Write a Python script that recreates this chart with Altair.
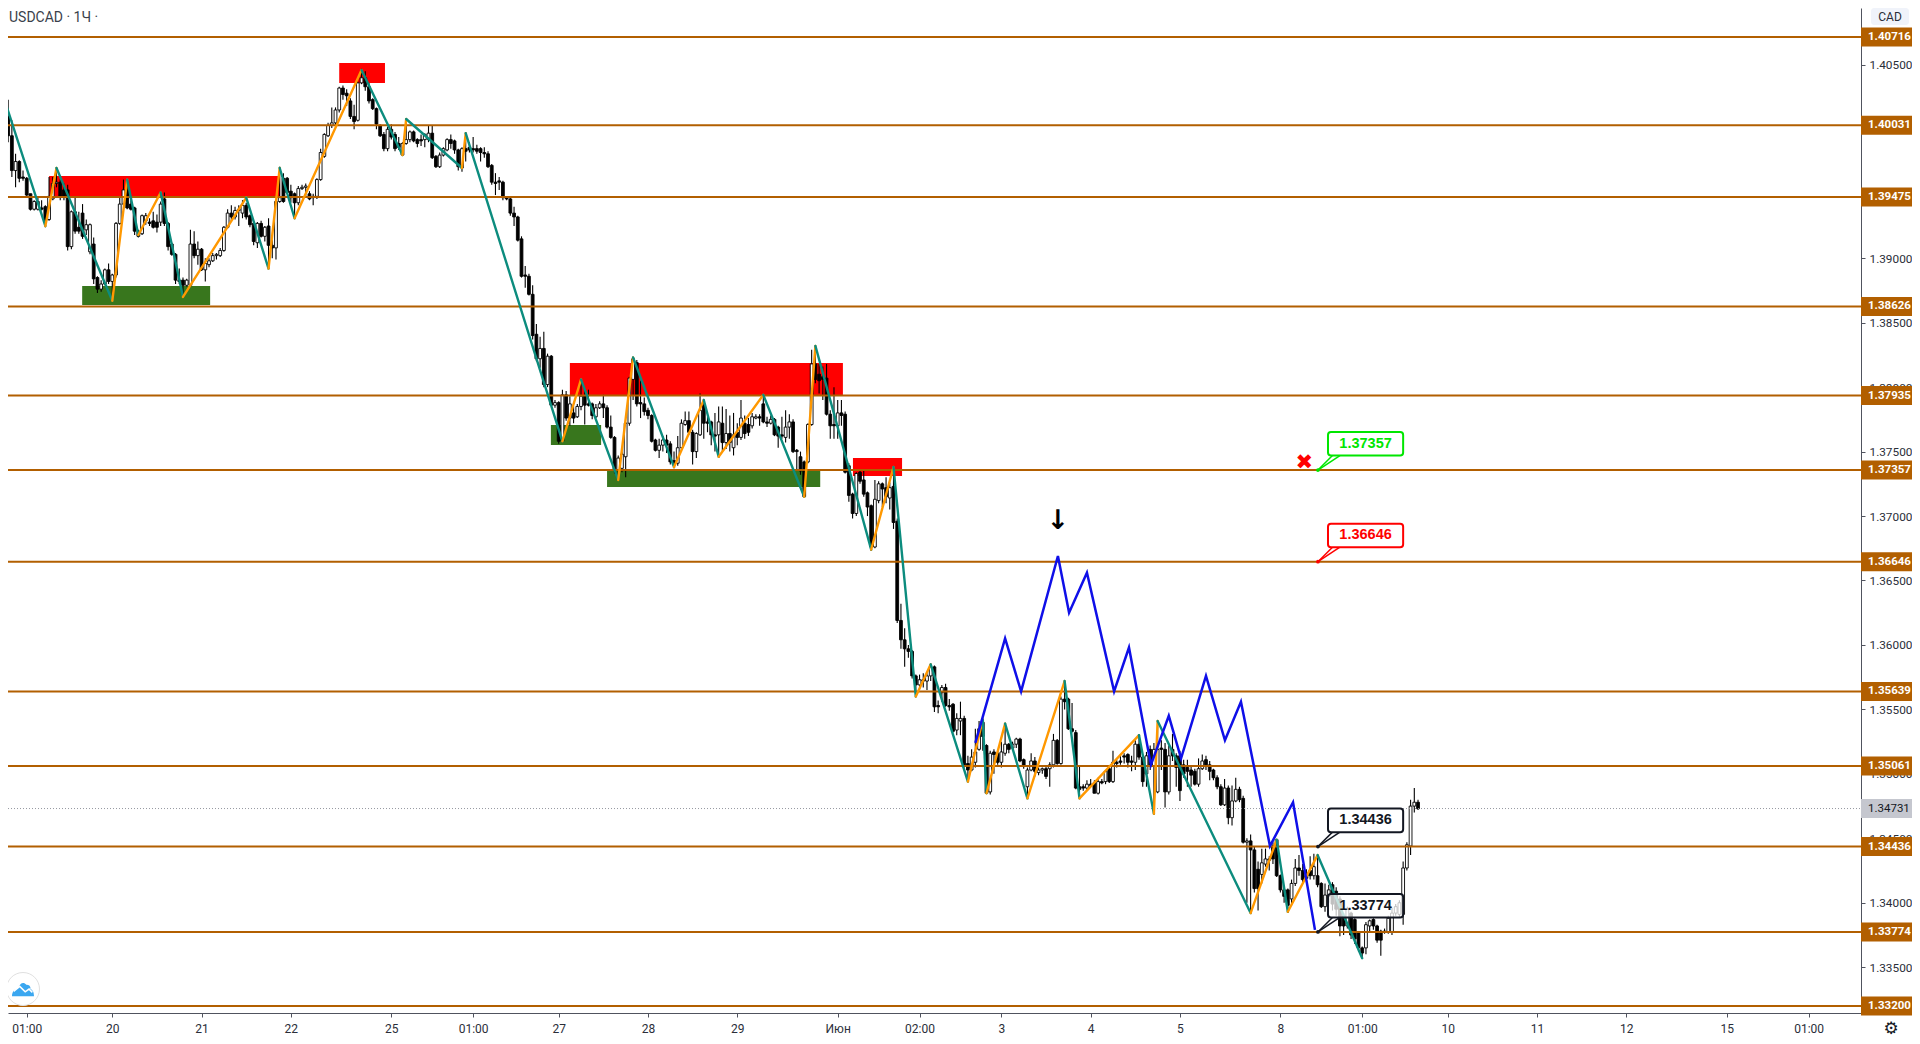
import altair as alt
import pandas as pd

# candles: (open, close, high, low) in pips above 1.0000, one row per hour bar
seg_a = [(4042,4030,4043,4027),(4030,4009,4032,4002),(4010,3995,4023,3990),(3995,3968,4007,3963),(3968,3975,3981,3955),
(3975,3962,3976,3959),(3963,3962,3968,3960),(3962,3949,3963,3948),(3950,3938,3950,3937),(3938,3944,3945,3937),
(3938,3944,3948,3937),(3939,3938,3945,3937),(3940,3929,3941,3924),(3930,3948,3963,3929),(3946,3958,3963,3945),
(3958,3959,3968,3955),(3959,3948,3961,3945),(3953,3948,3958,3945),(3953,3909,3957,3906),(3909,3936,3937,3907),
(3936,3921,3948,3919),(3924,3921,3936,3919),(3935,3917,3942,3915),(3922,3926,3930,3918),(3905,3926,3927,3903),
(3911,3884,3916,3880),(3885,3876,3886,3873),(3876,3880,3883,3874),(3880,3891,3892,3879),(3891,3882,3896,3880)]
seg_b = [(3882,3887,3888,3867),(3887,3927,3928,3885),(3927,3942,3948,3926),(3942,3953,3961,3941),(3953,3939,3961,3938),
(3942,3938,3945,3937),(3939,3921,3940,3918),(3921,3917,3922,3916),(3919,3933,3934,3918),(3929,3933,3935,3926),
(3928,3927,3931,3925),(3929,3924,3936,3923),(3928,3924,3934,3920),(3928,3942,3944,3925),(3946,3927,3951,3925),
(3927,3909,3928,3906),(3911,3903,3912,3902),(3903,3883,3904,3880),(3883,3882,3892,3880),(3883,3879,3885,3870),
(3879,3883,3884,3878),(3879,3911,3922,3878),(3911,3902,3921,3900),(3902,3907,3913,3895)]
seg_c = [(3907,3891,3908,3890),(3891,3896,3900,3882),(3895,3898,3900,3893),(3898,3902,3904,3897),(3902,3903,3904,3899),
(3902,3906,3908,3901),(3906,3924,3925,3905),(3924,3935,3938,3923),(3935,3932,3941,3928),(3932,3937,3940,3930),
(3937,3938,3941,3925),(3935,3941,3945,3931),(3941,3932,3943,3930),(3933,3926,3934,3924),(3927,3913,3928,3910),
(3912,3927,3928,3908),(3927,3917,3929,3916),(3917,3924,3925,3913),(3925,3910,3931,3892),(3910,3908,3914,3900),
(3908,3944,3945,3899),(3944,3947,3971,3943),(3962,3944,3966,3943),(3962,3951,3963,3950)]
seg_d = [(3952,3947,3957,3943),(3950,3943,3951,3931),(3943,3954,3956,3941),(3954,3955,3957,3953),(3955,3956,3958,3947),
(3950,3946,3952,3945),(3948,3947,3950,3941),(3948,3961,3962,3946),(3961,3982,3985,3960),(3979,3996,3997,3978),
(3995,4003,4005,3994),(4003,4005,4017,4001),(4005,4015,4017,4003),(4015,4032,4033,4013),(4032,4027,4034,4023),
(4028,4026,4031,4018),(4022,4010,4024,4008),(4010,4006,4019,4000),(4007,4036,4037,4006),(4036,4040,4047,4035),
(4040,4033,4045,4030),(4033,4022,4036,4020),(4023,4016,4024,4015),(4016,4004,4017,4000)]
seg_e = [(4003,3995,4004,3994),(3996,3985,3998,3983),(3985,4000,4002,3983),(4000,3994,4004,3992),(3996,3985,3998,3983),
(3989,3986,3994,3984),(3980,3989,3990,3980),(3989,3992,4008,3988),(3992,3998,3999,3990),(3998,3991,3999,3990),
(3992,3989,3993,3986),(3992,3991,3996,3987),(3992,3996,3997,3986),(3992,3997,4003,3990),(3997,3978,4003,3977),
(3979,3971,3980,3970),(3971,3980,3982,3970),(3980,3985,3986,3979),(3984,3992,3993,3983),(3992,3989,3996,3985),
(3991,3984,3992,3981),(3984,3971,3985,3968),(3970,3985,3986,3967),(3985,3983,3998,3975)]
seg_f = [(3986,3984,3990,3982),(3985,3984,3994,3982),(3985,3983,3988,3981),(3985,3982,3986,3975),(3982,3981,3986,3978),
(3981,3971,3983,3970),(3972,3959,3973,3957),(3959,3958,3966,3949),(3960,3959,3963,3953),(3959,3947,3960,3945),
(3947,3946,3948,3945),(3946,3935,3947,3933),(3935,3932,3940,3925),(3932,3914,3933,3913),(3915,3886,3917,3885),
(3887,3886,3894,3877),(3886,3872,3888,3871),(3872,3840,3879,3837),(3841,3822,3849,3820),(3822,3830,3839,3815),
(3830,3802,3843,3800),(3802,3824,3826,3800),(3824,3786,3825,3786),(3786,3788,3790,3784)]
seg_g = [(3788,3758,3789,3756),(3758,3794,3798,3757),(3794,3776,3797,3774),(3776,3787,3793,3770),(3780,3776,3785,3772),
(3777,3785,3787,3776),(3785,3793,3806,3782),(3793,3786,3798,3771),(3787,3786,3798,3785),(3787,3778,3788,3775),
(3777,3784,3787,3776),(3784,3787,3789,3783),(3787,3784,3794,3776),(3784,3769,3786,3768),(3769,3761,3778,3760),
(3761,3736,3762,3733),(3736,3745,3747,3728),(3737,3748,3750,3734),(3746,3772,3773,3730),(3772,3807,3808,3770),
(3806,3822,3823,3790),(3819,3787,3821,3785),(3788,3787,3805,3776),(3787,3781,3792,3778)]
seg_h = [(3782,3778,3784,3775),(3778,3758,3779,3757),(3759,3751,3760,3750),(3751,3755,3760,3745),(3755,3759,3762,3750),
(3759,3755,3763,3749),(3756,3742,3758,3740),(3743,3741,3750,3737),(3741,3753,3762,3739),(3753,3772,3775,3751),
(3771,3774,3781,3770),(3774,3765,3781,3763),(3765,3750,3767,3740),(3750,3764,3765,3745),(3763,3782,3795,3762),
(3786,3772,3790,3760),(3773,3772,3777,3765),(3773,3763,3774,3755),(3763,3762,3780,3750),(3763,3773,3785,3746),
(3772,3757,3785,3750),(3757,3764,3783,3752),(3764,3757,3778,3750),(3753,3763,3780,3747)]
seg_i = [(3765,3761,3772,3755),(3761,3776,3790,3759),(3772,3764,3778,3760),(3771,3765,3776,3762),(3770,3777,3780,3768),
(3776,3777,3779,3775),(3777,3776,3779,3770),(3787,3773,3794,3772),(3773,3772,3777,3769),(3772,3775,3778,3771),
(3775,3763,3776,3762),(3769,3762,3770,3753),(3763,3762,3777,3760),(3761,3769,3782,3757),(3769,3773,3779,3760),
(3773,3750,3775,3749),(3751,3750,3752,3736),(3746,3735,3750,3732),(3742,3715,3743,3715),(3742,3771,3772,3741),
(3771,3818,3829,3770),(3818,3806,3832,3803),(3810,3805,3818,3795),(3808,3806,3816,3790)]
seg_j = [(3807,3779,3818,3778),(3779,3770,3782,3760),(3771,3770,3800,3760),(3770,3780,3790,3760),(3780,3778,3790,3770),
(3779,3734,3781,3733),(3739,3716,3741,3711),(3717,3702,3718,3698),(3702,3733,3734,3700),(3734,3727,3735,3725),
(3728,3717,3735,3715),(3718,3707,3719,3700),(3708,3676,3709,3673),(3676,3713,3728,3675),(3712,3725,3727,3710),
(3725,3721,3726,3707),(3722,3715,3730,3710),(3714,3722,3726,3705),(3723,3695,3737,3690),(3696,3619,3698,3617),
(3619,3604,3632,3597),(3604,3597,3613,3583),(3597,3595,3600,3590),(3595,3576,3596,3574)]
seg_k = [(3576,3569,3577,3560),(3569,3573,3577,3566),(3573,3572,3578,3567),(3572,3576,3578,3565),(3576,3583,3585,3572),
(3583,3552,3584,3548),(3553,3552,3557,3547),(3563,3567,3569,3556),(3567,3553,3570,3552),(3553,3552,3558,3549),
(3554,3533,3555,3532),(3534,3543,3547,3530),(3541,3543,3556,3530),(3543,3507,3545,3505),(3508,3503,3514,3494),
(3503,3513,3519,3502),(3509,3517,3535,3505),(3519,3535,3541,3518),(3540,3529,3543,3518),(3522,3485,3523,3485),
(3486,3516,3518,3484),(3517,3515,3519,3500),(3516,3509,3518,3507),(3509,3517,3525,3505)]
seg_l = [(3516,3523,3539,3514),(3523,3519,3524,3516),(3520,3523,3525,3518),(3523,3527,3528,3520),(3527,3510,3528,3509),
(3511,3506,3512,3504),(3490,3503,3505,3481),(3503,3510,3516,3502),(3510,3502,3513,3498),(3501,3503,3505,3499),
(3503,3504,3505,3500),(3504,3498,3506,3496),(3504,3507,3509,3490),(3507,3526,3531,3505),(3526,3508,3527,3507),
(3508,3558,3560,3507),(3558,3556,3572,3550),(3558,3535,3559,3534),(3535,3533,3555,3532),(3532,3489,3534,3488),
(3490,3488,3506,3481),(3490,3489,3492,3487),(3489,3492,3495,3487),(3492,3491,3496,3490)]
seg_m = [(3493,3485,3495,3485),(3485,3494,3497,3484),(3494,3493,3496,3492),(3494,3502,3503,3492),(3504,3494,3506,3493),
(3494,3509,3518,3493),(3509,3508,3511,3505),(3510,3509,3514,3507),(3514,3513,3516,3508),(3515,3509,3516,3505),
(3510,3509,3514,3502),(3509,3523,3526,3503),(3523,3513,3530,3511),(3513,3494,3514,3490),(3500,3514,3517,3490),
(3519,3506,3522,3503),(3506,3519,3524,3470),(3486,3519,3541,3485),(3520,3519,3526,3503),(3519,3486,3524,3474),
(3486,3514,3522,3484),(3519,3514,3531,3510),(3514,3505,3516,3490),(3514,3487,3518,3479)]
seg_n = [(3507,3500,3511,3497),(3505,3502,3511,3490),(3503,3499,3506,3490),(3502,3492,3504,3491),(3492,3504,3512,3490),
(3504,3510,3515,3503),(3511,3507,3514,3503),(3507,3502,3510,3495),(3503,3497,3504,3495),(3497,3490,3499,3488),
(3490,3476,3492,3475),(3476,3489,3496,3475),(3489,3466,3491,3461),(3466,3479,3491,3460),(3479,3488,3497,3478),
(3488,3480,3490,3478),(3481,3447,3483,3446),(3447,3448,3450,3400),(3448,3441,3453,3392),(3441,3411,3444,3408),
(3426,3411,3432,3394),(3422,3431,3442,3415),(3430,3434,3442,3428),(3434,3433,3436,3425)]
seg_o = [(3444,3434,3447,3430),(3449,3421,3449,3420),(3421,3410,3422,3408),(3410,3405,3413,3400),(3410,3398,3411,3392),
(3403,3415,3418,3398),(3415,3427,3434,3413),(3427,3425,3437,3421),(3425,3418,3430,3415),(3421,3419,3426,3416),
(3425,3421,3436,3418),(3421,3428,3438,3418),(3421,3414,3437,3412),(3415,3397,3416,3396),(3397,3406,3415,3393),
(3405,3410,3414,3400),(3414,3399,3416,3394),(3409,3395,3412,3390),(3403,3382,3405,3374),(3390,3382,3392,3375),
(3382,3395,3397,3380),(3392,3375,3393,3372),(3387,3372,3388,3368),(3377,3365,3378,3362)]
seg_p = [(3365,3361,3366,3357),(3365,3383,3385,3360),(3382,3386,3387,3378),(3387,3382,3388,3379),(3382,3371,3383,3369),
(3378,3371,3379,3359),(3378,3377,3380,3376),(3377,3388,3390,3376),(3377,3392,3396,3375),(3392,3397,3399,3390),
(3391,3400,3402,3389),(3391,3427,3432,3383),(3427,3445,3447,3425),(3444,3475,3480,3437),(3475,3478,3489,3470),
(3478,3473,3480,3472)]

levels = [1.40716, 1.40031, 1.39475, 1.38626, 1.37935, 1.37357, 1.36646, 1.35639, 1.35061, 1.34436, 1.33774, 1.33200]
last_price = 1.34731
y_ticks = [1.405, 1.39, 1.385, 1.38, 1.375, 1.37, 1.365, 1.36, 1.355, 1.35, 1.345, 1.34, 1.335]
x_tick_pos = [7, 30, 54, 78, 105, 127, 150, 174, 198, 225, 247, 269, 293, 317, 344, 366, 389, 413, 437, 464, 486]
x_tick_txt = ["01:00","20","21","22","25","01:00","27","28","29","Июн","02:00","3","4","5","8","01:00","10","11","12","15","01:00"]

# zigzag turning points: bar, pips
zz_bar = [0,12,15,30,34,37,43,49,66,72,75,79,97,108,109,124,125,151,156,166,170,181,189,193,205,216,219,234,240,246,250,260,264,265,270,276,286,290,306,310,311,336,343,346,354,366]
zz_pip = [4032,3925,3970,3867,3961,3918,3951,3870,3947,3892,3970,3931,4046,3980,4008,3970,3997,3758,3806,3728,3823,3738,3790,3746,3794,3715,3832,3674,3738,3560,3585,3494,3542,3485,3539,3481,3572,3481,3530,3469,3541,3392,3449,3393,3437,3357]

blue_bar = [262,270,274.3,284.2,287.2,292,299.3,303.3,309.2,314,317.3,324,329.1,333.4,341.2,347.4,353.3]
blue_pip = [3524,3605,3564,3669,3625,3656,3564,3598,3507,3545,3512,3576,3526,3556,3444,3478,3379]

zone_x1 = [13.0, 91.0, 153.0, 229.1, 21.9, 147.9, 163.0]
zone_x2 = [75.1, 103.3, 226.4, 242.3, 56.3, 161.4, 220.3]
zone_top = [1.39638, 1.40514, 1.38187, 1.37450, 1.38785, 1.37706, 1.37357]
zone_bot = [1.39475, 1.40359, 1.37935, 1.37311, 1.38637, 1.37551, 1.37225]
zone_col = ["#ff0000","#ff0000","#ff0000","#ff0000","#38761d","#38761d","#38761d"]

call_price = [1.37357, 1.36646, 1.34436, 1.33774]
call_text = ["1.37357", "1.36646", "1.34436", "1.33774"]
call_col = ["#00e600", "#ff0000", "#131722", "#131722"]
call_fill = [1.0, 1.0, 1.0, 0.75]

LEVEL = "#b25f00"
TEAL = "#0c8c7e"
ORANGE = "#ff9800"
FONT = "Roboto"

rows = seg_a+seg_b+seg_c+seg_d+seg_e+seg_f+seg_g+seg_h+seg_i+seg_j+seg_k+seg_l+seg_m+seg_n+seg_o+seg_p
cd = pd.DataFrame(rows, columns=["o","c","h","l"]) / 10000 + 1
cd["i"] = range(len(cd))
cd["fill"] = ["#ffffff" if b >= a else "#000000" for a, b in zip(cd.o, cd.c)]

xs = alt.Scale(domain=[1.962, 500.08], nice=False, zero=False, padding=0)
ys = alt.Scale(domain=[1.33145, 1.40941], nice=False, zero=False, padding=0)

label_expr = "[" + ",".join(f"'{t}'" for t in x_tick_txt) + "][indexof(" + str(x_tick_pos) + ",datum.value)]"
x_axis = alt.Axis(values=x_tick_pos, labelExpr=label_expr, grid=False, labelOverlap=False, labelFlush=False,
        labelFont=FONT, labelFontSize=12, labelColor="#2a2e39", labelPadding=6, tickSize=4, tickColor="#50535e",
        domainColor="#50535e", domainWidth=1, title=None)
y_axis = alt.Axis(values=y_ticks, format=".5f", orient="right", grid=False, labelOverlap=False, labelFlush=False, labelBound=False,
        labelFont=FONT, labelFontSize=11.8, labelColor="#2a2e39", labelPadding=4, tickSize=4, tickColor="#50535e",
        domainColor="#50535e", domainWidth=1, title=None)
AX = dict(scale=xs, axis=x_axis, title=None)
AY = dict(scale=ys, axis=y_axis, title=None)

wick = alt.Chart(cd).mark_rule(color="#000000", strokeWidth=1.1, clip=True).encode(
    x=alt.X("i:Q", **AX), y=alt.Y("l:Q", **AY), y2="h:Q")

body = alt.Chart(cd).mark_bar(size=2.8, stroke="#000000", strokeWidth=0.9, orient="vertical", clip=True).encode(
    x=alt.X("i:Q", **AX), y=alt.Y("o:Q", **AY), y2="c:Q", fill=alt.Fill("fill:N", scale=None))

zones_df = pd.DataFrame({"x1": zone_x1, "x2": zone_x2, "t": zone_top, "b": zone_bot, "col": zone_col})
zones = alt.Chart(zones_df).mark_rect(clip=True).encode(
    x=alt.X("x1:Q", **AX), x2="x2:Q", y=alt.Y("t:Q", **AY), y2="b:Q", fill=alt.Fill("col:N", scale=None))

lv_df = pd.DataFrame({"p": levels, "txt": [f"{v:.5f}" for v in levels]})
lv_lines = alt.Chart(lv_df).mark_rule(color=LEVEL, strokeWidth=2).encode(
    x=alt.value(0), x2=alt.value(1853), y=alt.Y("p:Q", **AY))
lv_box = alt.Chart(lv_df).mark_rule(color=LEVEL, strokeWidth=19).encode(
    x=alt.value(1853), x2=alt.value(1904), y=alt.Y("p:Q", **AY))
lv_txt = alt.Chart(lv_df).mark_text(align="left", baseline="middle", font=FONT, fontSize=11.5, fontWeight="bold", color="#ffffff").encode(
    x=alt.value(1860), y=alt.Y("p:Q", **AY), text="txt:N")

lp_df = pd.DataFrame({"p": [last_price], "txt": [f"{last_price:.5f}"]})
lp_line = alt.Chart(lp_df).mark_rule(color="#9598a1", strokeWidth=1, strokeDash=[1, 2]).encode(
    x=alt.value(0), x2=alt.value(1853), y=alt.Y("p:Q", **AY))
lp_box = alt.Chart(lp_df).mark_rule(color="#c5c7cf", strokeWidth=19).encode(
    x=alt.value(1853), x2=alt.value(1904), y=alt.Y("p:Q", **AY))
lp_txt = alt.Chart(lp_df).mark_text(align="left", baseline="middle", font=FONT, fontSize=11.5, color="#131722").encode(
    x=alt.value(1860), y=alt.Y("p:Q", **AY), text="txt:N")

zz_rows = []
for k in range(len(zz_bar) - 1):
    a, b = zz_pip[k], zz_pip[k + 1]
    zz_rows.append({"x": zz_bar[k], "x2": zz_bar[k + 1], "y": 1 + a / 1e4, "y2": 1 + b / 1e4,
                    "col": ORANGE if b > a else TEAL})
zigzag = alt.Chart(pd.DataFrame(zz_rows)).mark_rule(strokeWidth=2.4, strokeCap="round", clip=True).encode(
    x=alt.X("x:Q", **AX), x2="x2:Q", y=alt.Y("y:Q", **AY), y2="y2:Q", color=alt.Color("col:N", scale=None))

blue = alt.Chart(pd.DataFrame({"x": blue_bar, "y": [1 + v / 1e4 for v in blue_pip], "n": range(len(blue_bar))})).mark_line(
    color="#0f0fe8", strokeWidth=2.5, clip=True).encode(
    x=alt.X("x:Q", **AX), y=alt.Y("y:Q", **AY), order="n:Q")

marks_df = pd.DataFrame({"x": [350.4, 284.2], "y": [1.37412, 1.36962], "t": ["✖", "↓"], "col": ["#ff0000", "#000000"], "s": [21, 27]})
signs = alt.Chart(marks_df).mark_text(font="DejaVu Sans", fontWeight="bold", baseline="middle", align="center").encode(
    x=alt.X("x:Q", **AX), y=alt.Y("y:Q", **AY), text="t:N", color=alt.Color("col:N", scale=None),
    size=alt.Size("s:Q", scale=None))

cb_df = pd.DataFrame({"a": call_price, "txt": call_text, "col": call_col, "op": call_fill})
cb_df["x0"] = 354.1
cb_df["x1"] = 356.8
cb_df["x2"] = 377.0
cb_df["px1"] = 358.0
cb_df["px2"] = 360.0
cb_df["b"] = cb_df.a + 0.00112
cb_df["t"] = cb_df.a + 0.00295
cb_df["m"] = cb_df.a + 0.00204
cb_df["xm"] = 366.9
cb_box = alt.Chart(cb_df).mark_rect(cornerRadius=3, strokeWidth=2).encode(
    x=alt.X("x1:Q", **AX), x2="x2:Q", y=alt.Y("b:Q", **AY), y2="t:Q",
    stroke=alt.Stroke("col:N", scale=None), fill=alt.value("#ffffff"), fillOpacity=alt.FillOpacity("op:Q", scale=None))
cb_p1 = alt.Chart(cb_df).mark_rule(strokeWidth=1.5).encode(
    x=alt.X("x0:Q", **AX), x2="px1:Q", y=alt.Y("a:Q", **AY), y2="b:Q", color=alt.Color("col:N", scale=None))
cb_p2 = alt.Chart(cb_df).mark_rule(strokeWidth=1.5).encode(
    x=alt.X("x0:Q", **AX), x2="px2:Q", y=alt.Y("a:Q", **AY), y2="b:Q", color=alt.Color("col:N", scale=None))
cb_dot = alt.Chart(cb_df).mark_point(filled=True, size=14, opacity=1).encode(
    x=alt.X("x0:Q", **AX), y=alt.Y("a:Q", **AY), color=alt.Color("col:N", scale=None))
cb_txt = alt.Chart(cb_df).mark_text(font="Liberation Sans", fontSize=14.5, fontWeight="bold", align="center", baseline="middle").encode(
    x=alt.X("xm:Q", **AX), y=alt.Y("m:Q", **AY), text="txt:N", color=alt.Color("col:N", scale=None))

title = alt.Chart(pd.DataFrame({"t": ["USDCAD · 1Ч ·"]})).mark_text(
    font=FONT, fontSize=14, color="#3a3f4b", align="left", baseline="middle").encode(
    x=alt.value(1), y=alt.value(10), text="t:N")

cad_box = alt.Chart(pd.DataFrame({"t": ["CAD"]})).mark_rect(fill="#f0f3fa", cornerRadius=3).encode(
    x=alt.value(1863), x2=alt.value(1901), y=alt.value(0), y2=alt.value(17))
cad_txt = alt.Chart(pd.DataFrame({"t": ["CAD"]})).mark_text(font=FONT, fontSize=12, color="#2a2e39", baseline="middle").encode(
    x=alt.value(1882), y=alt.value(8.5), text="t:N")

logo_c = alt.Chart(pd.DataFrame({"t": [1]})).mark_point(shape="circle", size=1089, fill="#ffffff", stroke="#e0e0e0", strokeWidth=1, filled=False, opacity=1, fillOpacity=1).encode(
    x=alt.value(15), y=alt.value(981))
logo_a = alt.Chart(pd.DataFrame({"t": [1]})).mark_point(
    shape="M-1,.75C-1,.3-.7,.05-.45,.05C-.3,-.45,.05,-.6,.3,-.3C.6,-.35,.75,-.05,.65,.1C.9,.15,1,.45,1,.75Z",
    size=484, fill="#3ba7f0", filled=True, opacity=1).encode(x=alt.value(15), y=alt.value(980))
logo_b = alt.Chart(pd.DataFrame({"t": [1]})).mark_point(
    shape="M-.85,.3L-.3,-.15L.2,.35L.55,.1L.85,.4", size=484, stroke="#ffffff", strokeWidth=1.5, filled=False, opacity=1).encode(
    x=alt.value(15), y=alt.value(980))
gear = alt.Chart(pd.DataFrame({"t": ["⚙"]})).mark_text(font="DejaVu Sans", fontSize=17, color="#131722", baseline="middle").encode(
    x=alt.value(1883), y=alt.value(1021), text="t:N")

chart = alt.layer(
    zones, wick, body, lv_lines, lp_line, zigzag, blue, signs,
    cb_p1, cb_p2, cb_box, cb_dot, cb_txt, lv_box, lv_txt, lp_box, lp_txt,
    title, cad_box, cad_txt, logo_c, logo_a, logo_b, gear
).properties(
    width=1853, height=1005, autosize=alt.AutoSizeParams(type="none"),
    padding={"left": 0, "top": 0, "right": 51, "bottom": 27}, background="#ffffff"
).configure_view(stroke=None)

chart.save("out.html", embed_options={"renderer": "svg", "actions": False})
